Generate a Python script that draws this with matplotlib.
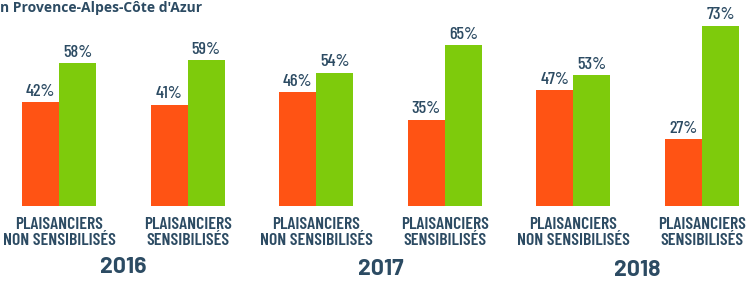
import matplotlib
matplotlib.use("Agg")
import matplotlib.pyplot as plt

categories = ["PLAISANCIERS\nNON SENSIBILISÉS", "PLAISANCIERS\nSENSIBILISÉS"] * 3
years = ["2016", "2017", "2018"]
non_vals = [42, 41, 46, 35, 47, 27]   # orange
oui_vals = [58, 59, 54, 65, 53, 73]   # green
title = "n Provence-Alpes-Côte d'Azur"

ORANGE = "#FF5314"
GREEN = "#7ECB0C"
NAVY = "#2C4B63"
COND = ["Barlow Condensed", "DejaVu Sans"]

fig = plt.figure(figsize=(7.46, 2.82), dpi=100)
ax = fig.add_axes([0, 0, 1, 1])
ax.set_xlim(-0.459, 5.342)
ax.set_ylim(-30.8, 83.4)
ax.axis("off")

w = 0.288
x = list(range(len(non_vals)))
ax.bar([i - w / 2 for i in x], non_vals, width=w, color=ORANGE)
ax.bar([i + w / 2 for i in x], oui_vals, width=w, color=GREEN)

for i in x:
    ax.text(i - w / 2, non_vals[i] + 1.3, f"{non_vals[i]}%", ha="center", va="bottom",
            fontsize=13, color=NAVY, family=COND, fontweight="medium")
    ax.text(i + w / 2, oui_vals[i] + 1.3, f"{oui_vals[i]}%", ha="center", va="bottom",
            fontsize=13, color=NAVY, family=COND, fontweight="medium")
    ax.text(i, -4.3, categories[i], ha="center", va="top", fontsize=12.7, color=NAVY,
            family=COND, fontweight="semibold", linespacing=1.08)

for k, yr in enumerate(years):
    ax.text(2 * k + 0.5, -20.8 - 0.5 * k, yr, ha="center", va="top", fontsize=16.5,
            color=NAVY, fontweight="bold", family=["Barlow", "DejaVu Sans"])

fig.text(0.0, 0.996, title, ha="left", va="top", fontsize=10, fontweight="bold",
         color=NAVY, family="Open Sans")

fig.savefig("out.png", dpi=100)
